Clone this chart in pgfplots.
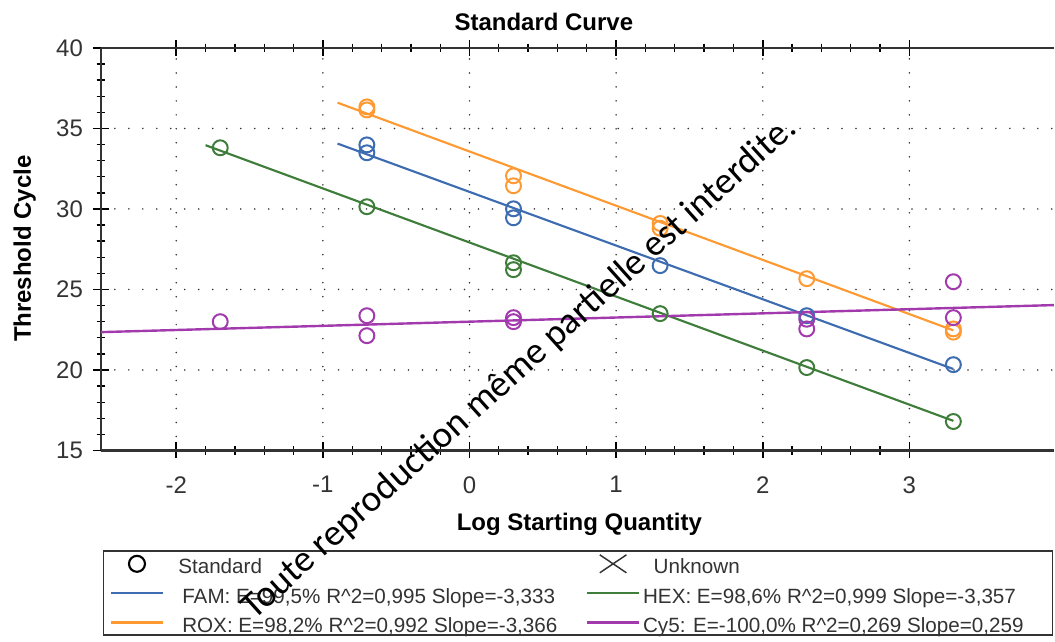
\documentclass[border=0pt]{standalone}
\usepackage{fontspec}
\setmainfont{Liberation Sans}
\newfontfamily\wmfont{Carlito}
\usepackage{pgfplots}
\pgfplotsset{compat=1.18}
\usetikzlibrary{calc}
\definecolor{famc}{HTML}{3D6DB0}
\definecolor{roxc}{HTML}{FF9A33}
\definecolor{hexc}{HTML}{3E7D3A}
\definecolor{cyc}{HTML}{A23AAE}
\definecolor{axc}{HTML}{333333}
\begin{document}
\begin{tikzpicture}[x=0.75pt,y=0.75pt]
\begin{axis}[
  scale only axis, width=715.5pt, height=302.25pt,
  xmin=-2.514, xmax=3.985, ymin=15, ymax=40,
  axis x line=box, axis y line=left, axis line style={-, axc, line width=1.8pt},
  xtick={-2,-1,0,1,2,3}, xticklabels={-2,-1,0,1,2,3},
  ytick={15,20,25,30,35,40}, yticklabels={15,20,25,30,35,40},
  minor x tick num=4, minor y tick num=4,
  tick align=center,
  major tick length=12pt, minor tick length=6.5pt,
  major tick style={black, line width=1.3pt},
  minor tick style={black, line width=1pt},
  tick label style={font=\fontsize{18}{18}\selectfont, text=axc},
  xticklabel style={yshift=-10pt},
  yticklabel style={xshift=-4pt},
  grid=major,
  major grid style={black!80, line width=1.3pt, line cap=round, dash pattern=on 0pt off 10.5pt},
  legend columns=2,
  legend cell align=left,
  legend style={at={(0.0021,-0.2481)}, anchor=north west, draw=axc, line width=1.2pt,
    fill=white, inner xsep=4.5pt, inner ysep=0.5pt,
    font=\fontsize{15.5}{15.5}\selectfont, text=axc,
    /tikz/column sep=0pt, /tikz/row sep=4pt, nodes={inner sep=0pt}},
  legend image code/.code={\draw[#1, line width=2pt] (0pt,0pt) -- (39pt,0pt);},
]
\coordinate (O) at (rel axis cs:0,0);
% regression lines
\addplot[famc, line width=1.6pt, forget plot] coordinates {(-0.9,34.06) (3.3,20.06)};
\addplot[roxc, line width=1.6pt, forget plot] coordinates {(-0.9,36.60) (3.3,22.46)};
\addplot[hexc, line width=1.6pt, forget plot] coordinates {(-1.8,33.96) (3.3,16.84)};
\addplot[cyc, line width=1.8pt, forget plot] coordinates {(-2.514,22.35) (3.985,24.03)};
% standards
\addplot[only marks, mark=o, mark size=5.6pt, famc, line width=1.5pt, forget plot] coordinates {
 (-0.7,33.98) (-0.7,33.49) (0.3,30.01) (0.3,29.45) (1.3,26.48) (2.3,23.37) (3.3,20.33)};
\addplot[only marks, mark=o, mark size=5.6pt, roxc, line width=1.5pt, forget plot] coordinates {
 (-0.7,36.34) (-0.7,36.15) (0.3,32.06) (0.3,31.44) (1.3,29.10) (1.3,28.80) (2.3,25.67) (3.3,22.55) (3.3,22.35)};
\addplot[only marks, mark=o, mark size=5.6pt, hexc, line width=1.5pt, forget plot] coordinates {
 (-1.7,33.80) (-0.7,30.14) (0.3,26.66) (0.3,26.23) (1.3,23.50) (2.3,20.15) (3.3,16.80)};
\addplot[only marks, mark=o, mark size=5.6pt, cyc, line width=1.5pt, forget plot] coordinates {
 (-1.7,23.00) (-0.7,23.37) (-0.7,22.13) (0.3,23.25) (0.3,23.00) (2.3,23.15) (2.3,22.55) (3.3,25.48) (3.3,23.25)};
% legend
\addlegendimage{legend image code/.code={\draw[black, line width=1.6pt, mark repeat=2, mark phase=2, only marks, mark=o, mark size=6pt] plot coordinates {(0pt,0pt) (19.5pt,0pt) (39pt,0pt)};}}
\addlegendentry{\makebox[316.5pt][l]{\rule[-5.5pt]{0pt}{22pt}\hspace{10.5pt}Standard}}
\addlegendimage{legend image code/.code={\path[draw=none,fill=none] (0pt,0pt) (39pt,0pt); \draw[black!80, line width=1.1pt] (9.5pt,-6.75pt) -- (29.5pt,6.75pt); \draw[black!80, line width=1.1pt] (9.5pt,6.75pt) -- (29.5pt,-6.75pt);}}
\addlegendentry{\makebox[305pt][l]{\rule[-5.5pt]{0pt}{22pt}\hspace{10pt}Unknown}}
\addlegendimage{famc}
\addlegendentry{\makebox[316.5pt][l]{\rule[-5.5pt]{0pt}{22pt}\hspace{13.5pt}FAM: E=99,5\% R\^{}2=0,995 Slope=-3,333}}
\addlegendimage{hexc}
\addlegendentry{\makebox[305pt][l]{\rule[-5.5pt]{0pt}{22pt}\hspace{2pt}HEX: E=98,6\% R\^{}2=0,999 Slope=-3,357}}
\addlegendimage{roxc}
\addlegendentry{\makebox[316.5pt][l]{\rule[-5.5pt]{0pt}{22pt}\hspace{13.5pt}ROX: E=98,2\% R\^{}2=0,992 Slope=-3,366}}
\addlegendimage{cyc}
\addlegendentry{\makebox[305pt][l]{\rule[-5.5pt]{0pt}{22pt}\hspace{2pt}Cy5: E=-100,0\% R\^{}2=0,269 Slope=0,259}}
\end{axis}
\coordinate (BL) at ($(O)+(-101,-191)$);
\useasboundingbox (BL) rectangle ($(BL)+(1055,642)$);
\node[font=\bfseries\fontsize{18}{18}\selectfont, anchor=base] at ($(BL)+(544.5,611)$) {Standard Curve};
\node[font=\bfseries\fontsize{18}{18}\selectfont, anchor=base] at ($(BL)+(580,111)$) {Log Starting Quantity};
\node[font=\bfseries\fontsize{18}{18}\selectfont, anchor=base, rotate=90] at ($(BL)+(31,393)$) {Threshold Cycle};
\node[font=\wmfont\fontsize{28}{28}\selectfont, anchor=base, rotate=42] at ($(BL)+(527,266)$) {Toute reproduction même partielle est interdite.};
\end{tikzpicture}
\end{document}
